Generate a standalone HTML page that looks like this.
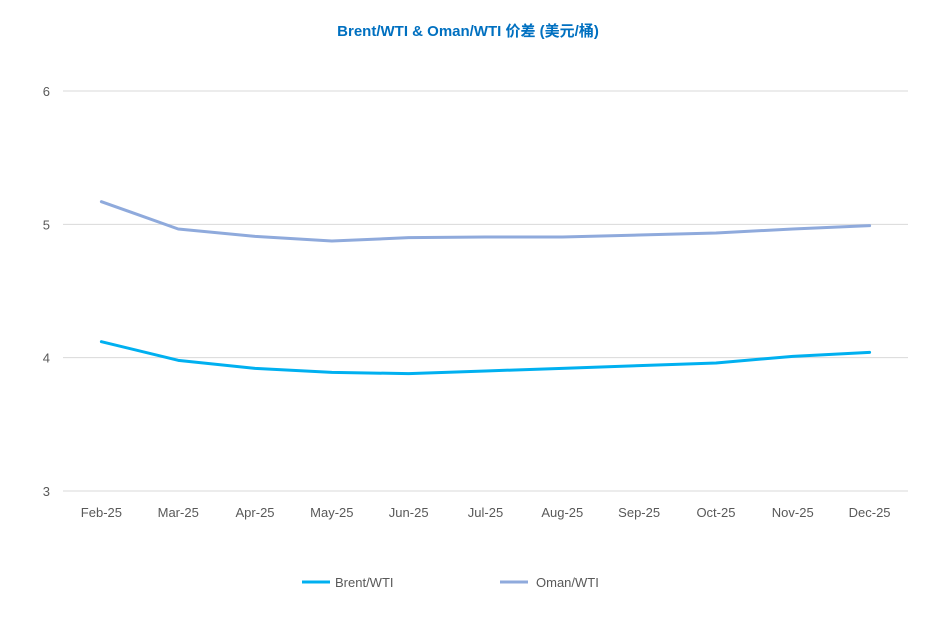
<!DOCTYPE html>
<html><head><meta charset="utf-8"><style>
body{margin:0;background:#fff;}
svg{display:block;font-family:"Liberation Sans","Noto Sans CJK SC",sans-serif;}
</style></head><body>
<svg id="chart" width="937" height="634">
<text x="468" y="36" text-anchor="middle" font-size="15" font-weight="bold" fill="#0070C0">Brent/WTI &amp; Oman/WTI 价差 (美元/桶)</text>
<g id="grid"></g><g id="yt"></g><g id="xt"></g><g id="series"></g>
<g>
<line x1="302" y1="582" x2="330" y2="582" stroke="#00B0F0" stroke-width="3"/>
<text x="335" y="587" font-size="13" fill="#595959">Brent/WTI</text>
<line x1="500" y1="582" x2="528" y2="582" stroke="#8FAADC" stroke-width="3"/>
<text x="536" y="587" font-size="13" fill="#595959">Oman/WTI</text>
</g>
</svg>
<script>
const categories=["Feb-25","Mar-25","Apr-25","May-25","Jun-25","Jul-25","Aug-25","Sep-25","Oct-25","Nov-25","Dec-25"];
const brent=[4.12,3.98,3.92,3.89,3.88,3.90,3.92,3.94,3.96,4.01,4.04];
const oman=[5.17,4.965,4.91,4.875,4.90,4.905,4.905,4.92,4.935,4.965,4.99];
const yTicks=[3,4,5,6];
const NS="http://www.w3.org/2000/svg";
const L=63,R=908,T=91,B=491,ymin=3,ymax=6;
const step=(R-L)/categories.length;
function xs(i){return L+step*(i+0.5);}
function ys(v){return B-(v-ymin)/(ymax-ymin)*(B-T);}
function mk(tag,attrs,parent){const e=document.createElementNS(NS,tag);for(const k in attrs)e.setAttribute(k,attrs[k]);parent.appendChild(e);return e;}
const grid=document.getElementById('grid'),yt=document.getElementById('yt'),xt=document.getElementById('xt'),ser=document.getElementById('series');
yTicks.forEach(v=>{
 const l=mk('line',{x1:L,x2:R,y1:ys(v),y2:ys(v),stroke:'#D9D9D9','stroke-width':1},grid);
 
 
 const t=mk('text',{x:50,y:ys(v)+5,'text-anchor':'end','font-size':13,fill:'#595959'},yt);
 t.textContent=v;
 
 
});
categories.forEach((c,i)=>{
 const t=mk('text',{x:xs(i),y:517,'text-anchor':'middle','font-size':13,fill:'#595959'},xt);
 t.textContent=c;
 
 
});
function line(data,color,name){
 const p=mk('polyline',{points:data.map((v,i)=>xs(i)+','+ys(v)).join(' '),fill:'none',stroke:color,'stroke-width':3,'stroke-linejoin':'round','stroke-linecap':'round'},ser);
 
 
}
line(oman,'#8FAADC','oman-wti-line');
line(brent,'#00B0F0','brent-wti-line');
</script>
</body></html>
